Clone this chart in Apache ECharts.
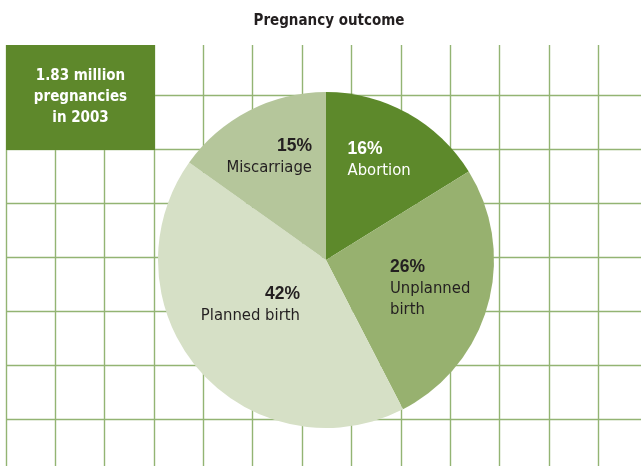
<!DOCTYPE html>
<html>
<head>
<meta charset="utf-8">
<title>Pregnancy outcome</title>
<script src="https://cdn.jsdelivr.net/npm/echarts@6/dist/echarts.min.js"></script>
<style>
  html, body { margin: 0; padding: 0; background: #ffffff; }
  #chart { width: 641px; height: 466px; }
</style>
</head>
<body>
<div id="chart"></div>
<script>
// Pregnancy outcome shares (%), clockwise from 12 o'clock
const categories = ['Abortion', 'Unplanned birth', 'Planned birth', 'Miscarriage'];
const shares = [16, 26, 42, 15];
// how each category name is broken over lines inside its slice
const nameLines = [['Abortion'], ['Unplanned', 'birth'], ['Planned birth'], ['Miscarriage']];
const titleText = 'Pregnancy outcome';
const badgeLines = ['1.83 million', 'pregnancies', 'in 2003'];

// styling
const sliceColors = ['#5d892b', '#97b16f', '#d6e0c6', '#b5c69b'];
const labelInk = ['#ffffff', '#231f20', '#231f20', '#231f20'];
const gridColor = '#93b473';
const frameColor = '#6a9338';
const badgeColor = '#5e882b';
const condensed = '"DejaVu Sans Condensed", "DejaVu Sans", sans-serif';
const narrow = '"Liberation Sans Narrow", "Liberation Sans", sans-serif';

// pie geometry and label anchors (offset from the pie centre, block top edge)
const pieCenter = [326, 260];
const pieRadius = 168;
const labelAnchor = [
  { dx: 21.5, dy: -121.5, align: 'left' },
  { dx: 64, dy: -4, align: 'left' },
  { dx: -26, dy: 23.5, align: 'right' },
  { dx: -14, dy: -125, align: 'right' }
];

const rich = {};
labelAnchor.forEach(function (a, i) {
  rich['p' + i] = { fontFamily: narrow, fontWeight: 'bold', fontSize: 17.5, lineHeight: 21.5, color: labelInk[i], align: a.align };
  rich['t' + i] = { fontFamily: condensed, fontSize: 16.5, lineHeight: 21.5, color: labelInk[i], align: a.align };
});

const chart = echarts.init(document.getElementById('chart'), null, { renderer: 'canvas' });

chart.setOption({
  animation: false,
  backgroundColor: '#ffffff',
  grid: [
    // vertical rules + top frame
    { left: 6, top: 45, width: 641.5, height: 440, outerBoundsMode: 'none' },
    // horizontal rules
    { left: 6, top: 41, width: 700, height: 432, outerBoundsMode: 'none' }
  ],
  xAxis: [
    {
      gridIndex: 0, type: 'value', position: 'top', min: 0, max: 13, interval: 1,
      axisLine: { show: true, lineStyle: { color: frameColor, width: 1.5 } },
      axisTick: { show: false }, axisLabel: { show: false },
      splitLine: { show: true, lineStyle: { color: gridColor, width: 1.4 } }
    },
    {
      gridIndex: 1, type: 'value', min: 0, max: 1,
      axisLine: { show: false }, axisTick: { show: false }, axisLabel: { show: false },
      splitLine: { show: false }
    }
  ],
  yAxis: [
    {
      gridIndex: 0, type: 'value', min: 0, max: 1,
      axisLine: { show: false }, axisTick: { show: false }, axisLabel: { show: false },
      splitLine: { show: false }
    },
    {
      gridIndex: 1, type: 'value', inverse: true, min: 0, max: 8, interval: 1,
      axisLine: { show: false }, axisTick: { show: false }, axisLabel: { show: false },
      splitLine: { show: true, showMinLine: false, lineStyle: { color: gridColor, width: 1.4 } }
    }
  ],
  series: [{
    type: 'pie',
    center: pieCenter,
    radius: pieRadius,
    startAngle: 90,
    clockwise: true,
    z: 5,
    silent: true,
    emphasis: { disabled: true },
    labelLine: { show: false },
    label: {
      show: true,
      position: 'inside',
      formatter: function (p) {
        const i = p.dataIndex;
        const lines = ['{p' + i + '|' + p.value + '%}'];
        nameLines[i].forEach(function (s) { lines.push('{t' + i + '|' + s + '}'); });
        return lines.join('\n');
      },
      rich: rich
    },
    labelLayout: function (params) {
      const a = labelAnchor[params.dataIndex];
      return {
        x: pieCenter[0] + a.dx,
        y: pieCenter[1] + a.dy,
        align: a.align,
        verticalAlign: 'top'
      };
    },
    data: categories.map(function (name, i) {
      return { name: name, value: shares[i], itemStyle: { color: sliceColors[i] } };
    })
  }],
  graphic: [
    {
      type: 'text', z: 10, x: 329, y: 14,
      style: {
        text: titleText, fill: '#231f20',
        font: 'bold 15px ' + condensed,
        align: 'center', verticalAlign: 'top'
      }
    },
    {
      type: 'rect', z: 20, shape: { x: 6, y: 45, width: 149, height: 105 },
      style: { fill: badgeColor }
    },
    {
      type: 'text', z: 21, x: 80.5, y: 97,
      style: {
        text: badgeLines.join('\n'), fill: '#ffffff',
        font: 'bold 15px ' + condensed,
        lineHeight: 21.3, align: 'center', verticalAlign: 'middle'
      }
    }
  ]
});
</script>
</body>
</html>
